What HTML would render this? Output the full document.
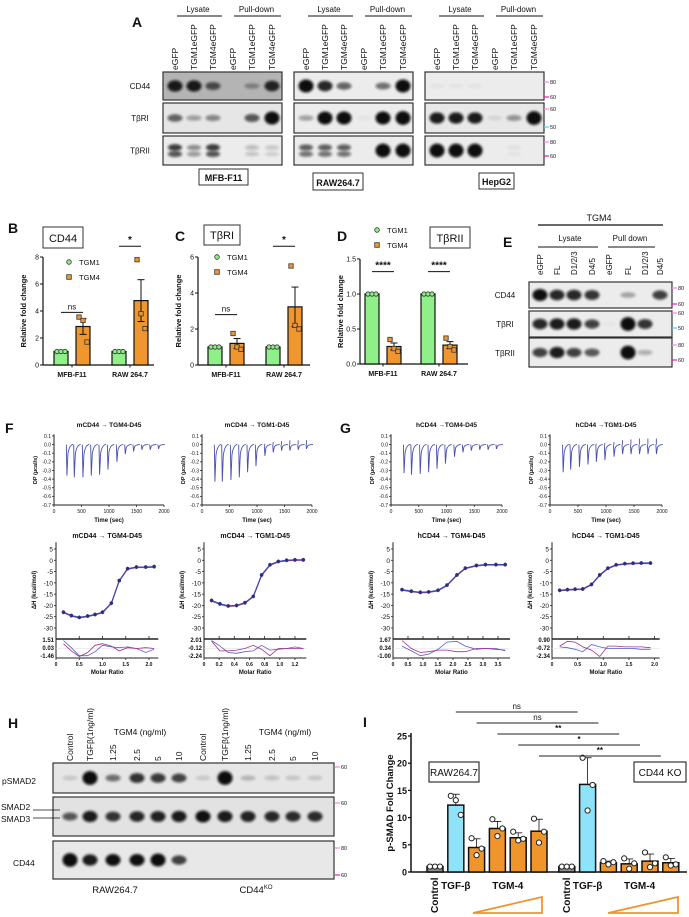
<!DOCTYPE html>
<html><head><meta charset="utf-8"><title>Figure</title>
<style>html,body{margin:0;padding:0;background:#fff}svg{display:block}</style></head>
<body>
<svg id="fig" width="689" height="917" viewBox="0 0 689 917" xmlns="http://www.w3.org/2000/svg">
<defs><filter id="blur" x="-60%" y="-150%" width="220%" height="400%"><feGaussianBlur stdDeviation="1.3"/></filter></defs>
<rect x="0" y="0" width="689" height="917" fill="#fff"/>
</svg>
<script>
// ---------- DATA ----------
const blotALanes = ['eGFP','TGM1eGFP','TGM4eGFP','eGFP','TGM1eGFP','TGM4eGFP'];
const blotARows = ['CD44','TβRI','TβRII'];
const blotACells = ['MFB-F11','RAW264.7','HepG2'];
const bandsMFB = [[0.85,0.85,0.6,0,0.3,0.8],[0.55,0.3,0.4,0,0.6,0.95],[0.75,0.4,0.75,0,0.2,0.15]];
const bandsRAW = [[0.95,0.8,0.55,0,0.5,0.95],[0.3,0.95,0.95,0.03,0.95,1],[0.6,0.6,0.6,0,1,1]];
const bandsHep = [[0.03,0.03,0.03,0,0,0],[0.85,0.85,0.85,0.08,0.35,1],[1,1,1,0,0.05,0]];
const blotELanes = ['eGFP','FL','D1/2/3','D4/5','eGFP','FL','D1/2/3','D4/5'];
const bandsE = [[0.9,0.8,0.8,0.75,0,0.3,0,0.7],[0.8,0.85,0.85,0.7,0.02,1,0.75,0],[0.7,0.85,0.7,0.6,0,1,0.25,0]];
const groupsBCD = ['MFB-F11','RAW 264.7'];
const seriesBCD = ['TGM1','TGM4'];
const cd44Means = [[1,2.85],[1,4.77]];
const cd44Err = [[0,0.58],[0,1.55]];
const cd44Pts = [[[1,1,1],[3.55,3.3,1.7]],[[1,1,1],[7.8,3.8,2.7]]];
const cd44Ticks = [0,2,4,6,8];
const tbr1Means = [[1,1.2],[1,3.23]];
const tbr1Err = [[0,0.27],[0,1.1]];
const tbr1Pts = [[[1,1,1],[1.75,1.0,0.87]],[[1,1,1],[5.5,2.2,2.0]]];
const tbr1Ticks = [0,2,4,6];
const tbr2Means = [[1,0.25],[1,0.27]];
const tbr2Err = [[0,0.05],[0,0.05]];
const tbr2Pts = [[[1,1,1],[0.35,0.22,0.18]],[[1,1,1],[0.37,0.25,0.2]]];
const tbr2Ticks = [0,0.5,1.0,1.5];
const tbr2TickLabels = ['0.0','0.5','1.0','1.5'];
const sigB = [['ns',3.9],['*',8.8]];
const sigC = [['ns',2.8],['*',6.6]];
const sigD = [['****',1.32],['****',1.32]];
// ITC raw
const itcTimes = [224,358,515,667,818,970,1133,1285,1436,1588,1739,1890];
const itcDepth1 = [-0.36,-0.38,-0.38,-0.36,-0.35,-0.29,-0.2,-0.11,-0.08,-0.06,-0.06,-0.05];
const itcUp1 = [0,0,0,0,0,0,0,0,0,0,0,0];
const itcDepth2 = [-0.43,-0.43,-0.41,-0.38,-0.32,-0.25,-0.13,-0.09,-0.07,-0.07,-0.06,-0.05];
const itcUp2 = [0,0,0,0,0,0,0.01,0.03,0.04,0.05,0.05,0.05];
const itcDepth3 = [-0.33,-0.35,-0.34,-0.32,-0.28,-0.22,-0.14,-0.09,-0.07,-0.06,-0.06,-0.05];
const itcUp3 = [0,0,0,0,0,0,0,0,0,0,0,0];
const itcDepth4 = [-0.32,-0.29,-0.26,-0.23,-0.2,-0.18,-0.14,-0.11,-0.11,-0.11,-0.11,-0.11];
const itcUp4 = [0,0,0,0,0.01,0.02,0.03,0.05,0.06,0.07,0.07,0.07];
const dpTicks = [0.1,0.0,-0.1,-0.2,-0.3,-0.4,-0.5,-0.6,-0.7];
const timeTicks = [0,500,1000,1500,2000];
// ITC isotherms
const dhTicks = [5,0,-5,-10,-15,-20,-25,-30];
const iso1X = [0.16,0.33,0.5,0.68,0.84,1.0,1.19,1.36,1.54,1.73,1.93,2.11];
const iso1Y = [-23,-24.5,-25.3,-24.7,-24,-23,-19,-9,-3.7,-3,-3,-2.8];
const iso2X = [0.1,0.21,0.32,0.43,0.54,0.65,0.76,0.87,0.98,1.09,1.2,1.31];
const iso2Y = [-17.8,-19.3,-20.2,-20,-18.8,-16,-6.5,-2,-0.5,0,0.2,0.2];
const iso3X = [0.3,0.61,0.91,1.19,1.5,1.8,2.13,2.41,2.78,3.08,3.43,3.74];
const iso3Y = [-13,-13.7,-14.2,-14,-13.3,-11,-6.5,-3.5,-2.3,-1.9,-1.9,-1.9];
const iso4X = [0.15,0.3,0.45,0.6,0.77,0.93,1.09,1.25,1.42,1.58,1.74,1.92];
const iso4Y = [-13.3,-13,-12.8,-12.7,-10.7,-6.5,-3.5,-2,-1.5,-1.3,-1.2,-1.2];
const res1A = [1,0.1,-0.9,-0.9,-0.4,0.4,0.2,0.1,0.2,0,-0.5,-0.1];
const res1B = [0.6,-0.3,-1,-0.5,0.4,0.6,0.3,-0.3,0.1,0,0.1,0];
const res2A = [1,0.3,-0.5,-0.6,-0.4,-0.3,0.4,-0.2,-0.1,0,0.2,0];
const res2B = [0.9,-0.3,-0.3,-0.2,0,0.4,-0.1,-0.9,0,0,0,0];
const res3A = [0.3,-0.3,-0.9,-0.7,-0.1,0.8,0.9,0.3,-0.1,0,0,-0.3];
const res3B = [1,0,-0.5,-0.4,-0.2,-0.2,-0.4,-0.4,0,0,-0.1,-0.2];
const res4A = [0.2,0.1,-0.1,-0.4,0.5,0.2,0,0,0,0,-0.1,-0.1];
const res4B = [0.3,0.9,0.8,0.2,-0.2,-1,0.3,0.3,0.2,0.2,0.2,0.1];
// H blot
const blotHLanes = ['Control','TGFβ(1ng/ml)','1.25','2.5','5','10','Control','TGFβ(1ng/ml)','1.25','2.5','5','10'];
const bandsPSMAD = [0.12,1,0.5,0.75,0.72,0.68,0.12,1,0.2,0.15,0.14,0.14];
const bandsSMAD = [0.6,0.85,0.75,0.8,0.82,0.85,0.9,0.85,0.82,0.8,0.78,0.78];
const bandsCD44H = [1,0.85,0.9,0.9,0.95,0.7,0,0,0,0,0,0];
// I chart
const iCats = ['Control','TGF-β','TGM4 1.25','TGM4 2.5','TGM4 5','TGM4 10','KO Control','KO TGF-β','KO TGM4 1.25','KO TGM4 2.5','KO TGM4 5','KO TGM4 10'];
const iTypes = ['ctrl','tgf','tgm','tgm','tgm','tgm','ctrl','tgf','tgm','tgm','tgm','tgm'];
const iMeans = [1,12.3,4.5,8,6.3,7.5,1,16.1,1.7,1.5,2,1.7];
const iErr = [0,2,1.6,1.3,0.9,2.2,0,4.9,0.3,0.9,1.3,0.8];
const iPts = [[1,1,1],[14,13.2,10.5],[6.2,3.1,4.3],[9.7,6.6,8],[7.4,5.8,6.1],[9.8,5.4,7.4],[1,1,1],[21,11.3,16],[2,1.4,1.8],[2.5,0.6,1.6],[3.6,0.9,1.6],[2.7,1.2,1.4]];
const iTicks = [0,5,10,15,20,25];
const iSig = [[1,7,'ns'],[2,8,'ns'],[3,9,'**'],[4,10,'*'],[5,11,'**']];

// ---------- HELPERS ----------
const NS = 'http://www.w3.org/2000/svg';
const svg = document.getElementById('fig');
const FONT = '"Liberation Sans", "DejaVu Sans", sans-serif';
function mk(tag, attrs, name, parent) {
  const e = document.createElementNS(NS, tag);
  for (const k in attrs) e.setAttribute(k, attrs[k]);
  
  
  (parent || svg).appendChild(e);
  return e;
}
function tx(x, y, s, o, name, parent) {
  const e = mk('text', {x: x, y: y, 'font-size': o.size || 8, 'font-family': FONT,
    'text-anchor': o.anchor || 'start', 'font-weight': o.bold ? 'bold' : 'normal', fill: o.fill || '#111'}, name, parent);
  if (o.rot) e.setAttribute('transform', 'rotate(' + o.rot + ' ' + x + ' ' + y + ')');
  e.textContent = s;
  return e;
}
function ln(x1, y1, x2, y2, name, w, c, parent) {
  return mk('line', {x1: x1, y1: y1, x2: x2, y2: y2, stroke: c || '#111', 'stroke-width': w || 1}, name, parent);
}
function marker(x, y, label, color, parent) {
  ln(x, y, x + 5, y, 'mw-marker-tick', 1.2, color, parent);
  tx(x + 6, y + 2, label, {size: 5.5}, 'mw-marker-label', parent);
}
function blot(name, x, w, rowsY, rowsH, laneX, bands, bgs, double) {
  const g = mk('g', {}, name);
  rowsY.forEach(function (ry, ri) {
    mk('rect', {x: x, y: ry, width: w, height: rowsH[ri], fill: bgs[ri], stroke: '#333', 'stroke-width': 1.2}, name + '-row', g);
    bands[ri].forEach(function (v, li) {
      if (v <= 0.01) return;
      const cy = ry + rowsH[ri] / 2;
      if (double && double[ri] && v < 0.9) {
        mk('ellipse', {cx: laneX[li], cy: cy - 3, rx: 7, ry: 2.2 + 1.5 * v, fill: '#0a0a0a', opacity: Math.min(1, v * 1.05), filter: 'url(#blur)'}, 'band', g);
        mk('ellipse', {cx: laneX[li], cy: cy + 3.5, rx: 7, ry: 2 + 1.5 * v, fill: '#0a0a0a', opacity: Math.min(1, v * 0.9), filter: 'url(#blur)'}, 'band', g);
      } else {
        mk('ellipse', {cx: laneX[li], cy: cy, rx: 7.5, ry: 2.4 + 4.5 * v * v, fill: '#0a0a0a', opacity: Math.min(1, v * 1.1), filter: 'url(#blur)'}, 'band', g);
      }
    });
  });
  return g;
}

// ---------- PANEL A ----------
tx(132, 27, 'A', {size: 14, bold: true}, 'panel-label-a');
const aBoxX = [163, 294, 425];
const aOffsets = [12, 31, 50, 70, 89, 109];
const aRowsY = [72, 103, 136];
const aRowsH = [28, 30, 29];
const aBands = [bandsMFB, bandsRAW, bandsHep];
const aBgs = [['#b4b4b4', '#e6e6e6', '#ececec'], ['#ececec', '#ececec', '#ececec'], ['#ececec', '#e8e8e8', '#ececec']];
const aLabelBox = [[199, 169, 49, 16], [313, 173, 50, 17], [479, 173, 35, 16]];
aBoxX.forEach(function (bx, ci) {
  const lanes = aOffsets.map(function (o) { return bx + o; });
  blot('blot-a-' + blotACells[ci], bx, 119, aRowsY, aRowsH, lanes, aBands[ci], aBgs[ci], [false, false, true]);
  blotALanes.forEach(function (l, li) { tx(lanes[li] + 3, 70, l, {size: 8.5, rot: -90}, 'lane-label-a'); });
  tx((lanes[0] + lanes[2]) / 2 + 4, 12, 'Lysate', {size: 8, anchor: 'middle'}, 'lysate-header-a');
  ln(lanes[0] + 2, 16, lanes[2] + 9, 16, 'lysate-bracket-a');
  tx((lanes[3] + lanes[5]) / 2 + 4, 12, 'Pull-down', {size: 8, anchor: 'middle'}, 'pulldown-header-a');
  ln(lanes[3] + 1, 16, lanes[5] + 9, 16, 'pulldown-bracket-a');
  const b = aLabelBox[ci];
  mk('rect', {x: b[0], y: b[1], width: b[2], height: b[3], fill: '#fff', stroke: '#333', 'stroke-width': 1}, 'cell-line-box', svg);
  tx(b[0] + b[2] / 2, b[1] + b[3] - 4, blotACells[ci], {size: 9, bold: true, anchor: 'middle'}, 'cell-line-label');
});
blotARows.forEach(function (r, ri) { tx(140, aRowsY[ri] + aRowsH[ri] / 2 + 3, r, {size: 8, anchor: 'middle'}, 'row-label-a'); });
marker(544, 82, '80', '#f08ad8'); marker(544, 97, '60', '#e020b0');
marker(544, 109, '60', '#f08ad8'); marker(544, 127, '50', '#5cc6ea');
marker(544, 142, '80', '#f08ad8'); marker(544, 156, '60', '#e020b0');

// ---------- PANEL E ----------
tx(503, 247, 'E', {size: 14, bold: true}, 'panel-label-e');
tx(599, 221, 'TGM4', {size: 9, anchor: 'middle'}, 'tgm4-header-e');
ln(538, 225, 663, 225, 'tgm4-bracket-e', 1.3);
tx(570, 241, 'Lysate', {size: 8, anchor: 'middle'}, 'lysate-header-e');
ln(538, 247, 598, 247, 'lysate-bracket-e');
tx(630, 241, 'Pull down', {size: 8, anchor: 'middle'}, 'pulldown-header-e');
ln(608, 247, 655, 247, 'pulldown-bracket-e');
const eLanes = [540, 557, 574, 592, 609, 628, 645, 660];
blot('blot-e', 529, 143, [282, 311, 338], [26, 26, 29], eLanes, bandsE, ['#ececec', '#ececec', '#ececec'], [false, false, false]);
blotELanes.forEach(function (l, li) { tx(eLanes[li] + 3, 275, l, {size: 8, rot: -90}, 'lane-label-e'); });
tx(505, 298, 'CD44', {size: 8, anchor: 'middle'}, 'row-label-e');
tx(505, 327, 'TβRI', {size: 8, anchor: 'middle'}, 'row-label-e');
tx(505, 356, 'TβRII', {size: 8, anchor: 'middle'}, 'row-label-e');
marker(672, 288, '80', '#f08ad8'); marker(672, 304, '60', '#e020b0');
marker(672, 313, '60', '#f08ad8'); marker(672, 328, '50', '#5cc6ea');
marker(672, 345, '80', '#f08ad8'); marker(672, 360, '60', '#e020b0');

// ---------- PANELS B/C/D ----------
function barPanel(cfg) {
  const g = mk('g', {}, cfg.name);
  const y = function (v) { return cfg.y0 - v / cfg.max * (cfg.y0 - cfg.yTop); };
  ln(cfg.ax0, cfg.yTop, cfg.ax0, cfg.y0, 'y-axis', 1.2, '#111', g);
  ln(cfg.ax0, cfg.y0, cfg.ax1, cfg.y0, 'x-axis', 1.2, '#111', g);
  cfg.ticks.forEach(function (t, i) {
    ln(cfg.ax0 - 3, y(t), cfg.ax0, y(t), 'y-tick', 1, '#111', g);
    tx(cfg.ax0 - 4, y(t) + 2.5, cfg.tickLabels ? cfg.tickLabels[i] : String(t), {size: 7, anchor: 'end'}, 'y-tick-label', g);
  });
  tx(cfg.ax0 - 17, (cfg.yTop + cfg.y0) / 2, 'Relative fold change', {size: 7.5, bold: true, anchor: 'middle', rot: -90}, 'y-axis-title', g);
  groupsBCD.forEach(function (gr, gi) {
    const c = cfg.centers[gi];
    tx(c, cfg.y0 + 12, gr, {size: 7, bold: true, anchor: 'middle'}, 'x-category-label', g);
    ln(c, cfg.y0, c, cfg.y0 + 2.5, 'x-tick', 1, '#111', g);
    seriesBCD.forEach(function (s, si) {
      const bx = c + (si === 0 ? -11 : 11);
      const v = cfg.means[gi][si];
      mk('rect', {x: bx - 7, y: y(v), width: 14, height: cfg.y0 - y(v), fill: si === 0 ? '#8ff08a' : '#f0962e', stroke: '#111', 'stroke-width': 1.2}, 'bar-' + s + '-' + gr, g);
      const e = cfg.err[gi][si];
      if (e > 0) {
        ln(bx, y(v - e), bx, y(v + e), 'error-bar', 1, '#111', g);
        ln(bx - 3.5, y(v + e), bx + 3.5, y(v + e), 'error-cap', 1, '#111', g);
        ln(bx - 3.5, y(v - e), bx + 3.5, y(v - e), 'error-cap', 1, '#111', g);
      }
      cfg.pts[gi][si].forEach(function (p, pi) {
        const px = bx + (pi - 1) * 4;
        if (si === 0) mk('circle', {cx: px, cy: y(p), r: 2.2, fill: '#8ff08a', stroke: '#333', 'stroke-width': 0.8}, 'data-point', g);
        else mk('rect', {x: px - 2.2, y: y(p) - 2.2, width: 4.4, height: 4.4, fill: '#f0962e', stroke: '#333', 'stroke-width': 0.8}, 'data-point', g);
      });
    });
    const sg = cfg.sig[gi];
    ln(c - 11, y(sg[1]), c + 11, y(sg[1]), 'significance-line', 1, '#111', g);
    tx(c, y(sg[1]) - 3, sg[0], {size: sg[0] === 'ns' ? 8 : 10, bold: sg[0] !== 'ns', anchor: 'middle'}, 'significance-label', g);
  });
  mk('circle', {cx: cfg.leg[0], cy: cfg.leg[1], r: 2.3, fill: '#8ff08a', stroke: '#333', 'stroke-width': 0.8}, 'legend-tgm1-marker', g);
  tx(cfg.leg[0] + 10, cfg.leg[1] + 3, 'TGM1', {size: 7.5}, 'legend-tgm1-label', g);
  mk('rect', {x: cfg.leg[0] - 2.3, y: cfg.leg[1] + 15 - 2.3, width: 4.6, height: 4.6, fill: '#f0962e', stroke: '#333', 'stroke-width': 0.8}, 'legend-tgm4-marker', g);
  tx(cfg.leg[0] + 10, cfg.leg[1] + 18, 'TGM4', {size: 7.5}, 'legend-tgm4-label', g);
  const tb = cfg.titleBox;
  mk('rect', {x: tb[0], y: tb[1], width: tb[2], height: tb[3], fill: '#fff', stroke: '#333', 'stroke-width': 1}, 'chart-title-box', g);
  tx(tb[0] + tb[2] / 2, tb[1] + tb[3] - 6, cfg.title, {size: 11, anchor: 'middle'}, 'chart-title', g);
  tx(cfg.label[0], cfg.label[1], cfg.letter, {size: 14, bold: true}, 'panel-label', g);
}
barPanel({name: 'chart-b-cd44', ax0: 43, ax1: 154, yTop: 257, y0: 365, max: 8, ticks: cd44Ticks, centers: [72, 130],
  means: cd44Means, err: cd44Err, pts: cd44Pts, sig: sigB, leg: [69, 262], titleBox: [43, 227, 40, 21], title: 'CD44', label: [8, 233], letter: 'B'});
barPanel({name: 'chart-c-tbri', ax0: 198, ax1: 310, yTop: 257, y0: 365, max: 6, ticks: tbr1Ticks, centers: [226, 284],
  means: tbr1Means, err: tbr1Err, pts: tbr1Pts, sig: sigC, leg: [217, 257], titleBox: [204, 225, 36, 20], title: 'TβRI', label: [175, 241], letter: 'C'});
barPanel({name: 'chart-d-tbrii', ax0: 360, ax1: 468, yTop: 259, y0: 364, max: 1.5, ticks: tbr2Ticks, tickLabels: tbr2TickLabels, centers: [383, 439],
  means: tbr2Means, err: tbr2Err, pts: tbr2Pts, sig: sigD, leg: [377, 230], titleBox: [430, 227, 40, 21], title: 'TβRII', label: [337, 241], letter: 'D'});

// ---------- PANEL F/G : ITC raw ----------
tx(5, 433, 'F', {size: 14, bold: true}, 'panel-label-f');
tx(340, 433, 'G', {size: 14, bold: true}, 'panel-label-g');
function itcTop(name, x0, x1, title, depths, ups) {
  const g = mk('g', {}, name);
  const X = function (t) { return x0 + t / 2000 * (x1 - x0); };
  const Y = function (v) { return 444.6 - v * 86.25; };
  ln(x0, Y(0.12), x0, Y(-0.7), 'y-axis', 1, '#222', g);
  ln(x0, Y(-0.7), x1, Y(-0.7), 'x-axis', 1, '#222', g);
  dpTicks.forEach(function (t) {
    ln(x0 - 2, Y(t), x0, Y(t), 'y-tick', 0.8, '#222', g);
    tx(x0 - 3, Y(t) + 1.8, t.toFixed(1), {size: 5, anchor: 'end'}, 'y-tick-label', g);
  });
  timeTicks.forEach(function (t) {
    ln(X(t), Y(-0.7), X(t), Y(-0.7) + 2, 'x-tick', 0.8, '#222', g);
    tx(X(t), Y(-0.7) + 8, String(t), {size: 5, anchor: 'middle'}, 'x-tick-label', g);
  });
  tx((x0 + x1) / 2, 522, 'Time (sec)', {size: 6, bold: true, anchor: 'middle'}, 'x-axis-title', g);
  tx(x0 - 17, 470, 'DP (µcal/s)', {size: 5.5, bold: true, anchor: 'middle', rot: -90}, 'y-axis-title', g);
  tx((x0 + x1) / 2, 427, title, {size: 6.5, bold: true, anchor: 'middle'}, 'chart-title', g);
  itcTimes.forEach(function (t, i) {
    const x = X(t), y0 = Y(0);
    mk('path', {d: 'M' + x + ' ' + y0 + ' L' + (x + 0.6) + ' ' + Y(depths[i]) + ' L' + (x + 1.6) + ' ' + Y(depths[i] * 0.3) + ' Q' + (x + 3) + ' ' + y0 + ' ' + (x + 7) + ' ' + y0,
      fill: 'none', stroke: '#4a50b0', 'stroke-width': 0.9}, 'injection-peak', g);
    if (ups[i] > 0) ln(x + 0.5, y0, x + 0.5, Y(ups[i]), 'injection-peak-up', 0.9, '#4a50b0', g);
  });
}
itcTop('itc-raw-mcd44-tgm4', 54, 164, 'mCD44 → TGM4-D45', itcDepth1, itcUp1);
itcTop('itc-raw-mcd44-tgm1', 202, 312, 'mCD44 → TGM1-D45', itcDepth2, itcUp2);
itcTop('itc-raw-hcd44-tgm4', 391, 502, 'hCD44 →TGM4-D45', itcDepth3, itcUp3);
itcTop('itc-raw-hcd44-tgm1', 550, 662, 'hCD44 →TGM1-D45', itcDepth4, itcUp4);

// ---------- ITC isotherms ----------
function itcBottom(name, x0, scale, xmax, xticks, xtl, title, px, py, rA, rB, rl) {
  const g = mk('g', {}, name);
  const X = function (m) { return x0 + m * scale; };
  const Y = function (v) { return 549 + (5 - v) * 2.257; };
  const x1 = X(xmax);
  ln(x0, Y(8), x0, 658, 'y-axis', 1, '#222', g);
  dhTicks.forEach(function (t) {
    ln(x0 - 2, Y(t), x0, Y(t), 'y-tick', 0.8, '#222', g);
    tx(x0 - 3, Y(t) + 2.5, String(t), {size: 6.5, anchor: 'end'}, 'y-tick-label', g);
  });
  tx(x0 - 20, 590, 'ΔH (kcal/mol)', {size: 6, bold: true, anchor: 'middle', rot: -90}, 'y-axis-title', g);
  tx(X(xmax / 2), 538, title, {size: 7, bold: true, anchor: 'middle'}, 'chart-title', g);
  ln(x0, 639, x1, 639, 'residual-top-axis', 1.4, '#222', g);
  ln(x0, 658, x1, 658, 'x-axis', 1, '#222', g);
  xticks.forEach(function (t, i) {
    ln(X(t), 636, X(t), 639, 'residual-tick', 0.8, '#222', g);
    ln(X(t), 658, X(t), 660, 'x-tick', 0.8, '#222', g);
    tx(X(t), 666, xtl[i], {size: 5, bold: true, anchor: 'middle'}, 'x-tick-label', g);
  });
  tx(X(xmax / 2), 674, 'Molar Ratio', {size: 6, bold: true, anchor: 'middle'}, 'x-axis-title', g);
  ln(x0, 648.5, x1, 648.5, 'residual-zero', 0.5, '#ddd', g);
  rl.forEach(function (l, i) { tx(x0 - 2, 642 + i * 8, l, {size: 6, bold: true, anchor: 'end'}, 'residual-tick-label', g); });
  mk('polyline', {points: px.map(function (m, i) { return X(m) + ',' + (648.5 - rA[i] * 8); }).join(' '), fill: 'none', stroke: '#5560c8', 'stroke-width': 0.8}, 'residual-line-blue', g);
  mk('polyline', {points: px.map(function (m, i) { return X(m) + ',' + (648.5 - rB[i] * 8); }).join(' '), fill: 'none', stroke: '#a03090', 'stroke-width': 0.8}, 'residual-line-magenta', g);
  mk('polyline', {points: px.map(function (m, i) { return X(m) + ',' + (Y(py[i]) + 0.6); }).join(' '), fill: 'none', stroke: '#b03a90', 'stroke-width': 1}, 'fit-line-magenta', g);
  mk('polyline', {points: px.map(function (m, i) { return X(m) + ',' + Y(py[i]); }).join(' '), fill: 'none', stroke: '#3a44b0', 'stroke-width': 1.2}, 'fit-line-blue', g);
  px.forEach(function (m, i) {
    ln(X(m), Y(py[i]) - 2, X(m), Y(py[i]) + 2, 'error-bar', 0.7, '#333', g);
    mk('circle', {cx: X(m), cy: Y(py[i]), r: 1.8, fill: '#2b3080'}, 'data-point', g);
  });
}
itcBottom('itc-iso-mcd44-tgm4', 56, 46.5, 2.2, [0, 0.5, 1, 1.5, 2], ['0', '0.5', '1.0', '1.5', '2.0'], 'mCD44  →  TGM4-D45', iso1X, iso1Y, res1A, res1B, ['1.51', '0.03', '-1.46']);
itcBottom('itc-iso-mcd44-tgm1', 204, 75.8, 1.35, [0, 0.2, 0.4, 0.6, 0.8, 1.0, 1.2], ['0', '0.2', '0.4', '0.6', '0.8', '1.0', '1.2'], 'mCD44  →  TGM1-D45', iso2X, iso2Y, res2A, res2B, ['2.01', '-0.12', '-2.24']);
itcBottom('itc-iso-hcd44-tgm4', 393, 30, 3.9, [0, 0.5, 1, 1.5, 2, 2.5, 3, 3.5], ['0', '0.5', '1.0', '1.5', '2.0', '2.5', '3.0', '3.5'], 'hCD44  →  TGM4-D45', iso3X, iso3Y, res3A, res3B, ['1.67', '0.34', '-1.00']);
itcBottom('itc-iso-hcd44-tgm1', 552, 51.3, 2.1, [0, 0.5, 1, 1.5, 2], ['0', '0.5', '1.0', '1.5', '2.0'], 'hCD44  →  TGM1-D45', iso4X, iso4Y, res4A, res4B, ['0.90', '-0.72', '-2.34']);

// ---------- PANEL H ----------
tx(8, 728, 'H', {size: 14, bold: true}, 'panel-label-h');
const hLanes = [70, 90, 113, 137, 158, 179, 203, 225, 248, 272, 293, 315];
blot('blot-h', 53, 281, [763, 797, 841], [30, 39, 38], hLanes, [bandsPSMAD, bandsSMAD, bandsCD44H], ['#e6e6e6', '#e2e2e2', '#e8e8e8'], [false, false, false]);
blotHLanes.forEach(function (l, li) { tx(hLanes[li] + 3, 761, l, {size: 8.5, rot: -90}, 'lane-label-h'); });
tx(140, 735, 'TGM4 (ng/ml)', {size: 8.5, anchor: 'middle'}, 'tgm4-dose-header');
tx(285, 735, 'TGM4 (ng/ml)', {size: 8.5, anchor: 'middle'}, 'tgm4-dose-header');
tx(2, 784, 'pSMAD2', {size: 8.5}, 'row-label-psmad2');
tx(1, 810, 'SMAD2', {size: 8.5}, 'row-label-smad2');
tx(1, 822, 'SMAD3', {size: 8.5}, 'row-label-smad3');
ln(33, 810, 60, 810, 'smad2-pointer', 0.8);
ln(33, 818, 60, 818, 'smad3-pointer', 0.8);
tx(13, 866, 'CD44', {size: 8.5}, 'row-label-cd44-h');
marker(335, 767, '60', '#f08ad8'); marker(335, 803, '60', '#f08ad8');
marker(335, 848, '80', '#f08ad8'); marker(335, 875, '60', '#e020b0');
tx(115, 893, 'RAW264.7', {size: 9.5, anchor: 'middle'}, 'cell-label-raw-h');
const ko = tx(256, 893, 'CD44', {size: 9.5, anchor: 'middle'}, 'cell-label-ko-h');
const sup = document.createElementNS(NS, 'tspan');


sup.setAttribute('font-size', '6'); sup.setAttribute('dy', '-4'); sup.textContent = 'KO';
ko.appendChild(sup);

// ---------- PANEL I ----------
(function () {
  const g = mk('g', {}, 'chart-i-psmad');
  const ax0 = 411, y0 = 872, yTop = 736, max = 25;
  const Y = function (v) { return y0 - v / max * (y0 - yTop); };
  const barX = function (i) { return 435 + i * 20.8 + (i >= 6 ? 7 : 0); };
  tx(363, 727, 'I', {size: 14, bold: true}, 'panel-label-i');
  ln(ax0, yTop - 3, ax0, y0, 'y-axis', 1.5, '#111', g);
  ln(ax0, y0, 687, y0, 'x-axis', 1.5, '#111', g);
  iTicks.forEach(function (t) {
    ln(ax0 - 3, Y(t), ax0, Y(t), 'y-tick', 1.3, '#111', g);
    tx(ax0 - 4, Y(t) + 3.5, String(t), {size: 9, bold: true, anchor: 'end'}, 'y-tick-label', g);
  });
  tx(393, 803, 'p-SMAD Fold Change', {size: 9.5, bold: true, anchor: 'middle', rot: -90}, 'y-axis-title', g);
  const col = {ctrl: '#8c8c8c', tgf: '#8ee3f8', tgm: '#f0952c'};
  iMeans.forEach(function (v, i) {
    const cx = barX(i);
    mk('rect', {x: cx - 8, y: Y(v), width: 16, height: y0 - Y(v), fill: col[iTypes[i]], stroke: '#111', 'stroke-width': 1.5}, 'bar-' + iCats[i].replace(/[^A-Za-z0-9]+/g, '-').toLowerCase(), g);
    const e = iErr[i];
    if (e > 0) {
      ln(cx, Y(v), cx, Y(v + e), 'error-bar', 0.8, '#111', g);
      ln(cx - 4, Y(v + e), cx + 4, Y(v + e), 'error-cap', 0.8, '#111', g);
    }
    iPts[i].forEach(function (p, pi) {
      mk('circle', {cx: cx + (pi - 1) * 5, cy: Y(p), r: 2.6, fill: '#fff', stroke: '#222', 'stroke-width': 1}, 'data-point', g);
    });
  });
  iSig.forEach(function (s, k) {
    const yy = 712 + k * 11;
    ln(barX(s[0]), yy, barX(s[1]) - 10, yy, 'significance-line', 0.9, '#222', g);
    tx((barX(s[0]) + barX(s[1]) - 10) / 2, yy - 3, s[2], {size: 8, bold: s[2] !== 'ns', anchor: 'middle'}, 'significance-label', g);
  });
  mk('rect', {x: 429, y: 762, width: 50, height: 20, fill: '#fff', stroke: '#333', 'stroke-width': 1.2}, 'raw-label-box', g);
  tx(454, 776, 'RAW264.7', {size: 10, anchor: 'middle'}, 'raw-label', g);
  mk('rect', {x: 634, y: 762, width: 52, height: 20, fill: '#fff', stroke: '#333', 'stroke-width': 1.2}, 'ko-label-box', g);
  tx(660, 776, 'CD44 KO', {size: 10, anchor: 'middle'}, 'ko-label', g);
  tx(barX(0) + 3, 913, 'Control', {size: 10, bold: true, rot: -90}, 'x-label-control', g);
  tx(barX(6) + 3, 913, 'Control', {size: 10, bold: true, rot: -90}, 'x-label-control-ko', g);
  tx(barX(1), 889, 'TGF-β', {size: 10, bold: true, anchor: 'middle'}, 'x-label-tgfb', g);
  tx(barX(7), 889, 'TGF-β', {size: 10, bold: true, anchor: 'middle'}, 'x-label-tgfb-ko', g);
  tx((barX(2) + barX(5)) / 2, 889, 'TGM-4', {size: 10, bold: true, anchor: 'middle'}, 'x-label-tgm4', g);
  tx((barX(8) + barX(11)) / 2, 889, 'TGM-4', {size: 10, bold: true, anchor: 'middle'}, 'x-label-tgm4-ko', g);
  mk('polygon', {points: '473,913 542,897 542,913', fill: 'none', stroke: '#f0952c', 'stroke-width': 1.8}, 'dose-triangle', g);
  mk('polygon', {points: '608,913 678,897 678,913', fill: 'none', stroke: '#f0952c', 'stroke-width': 1.8}, 'dose-triangle-ko', g);
})();
</script>
</body></html>
